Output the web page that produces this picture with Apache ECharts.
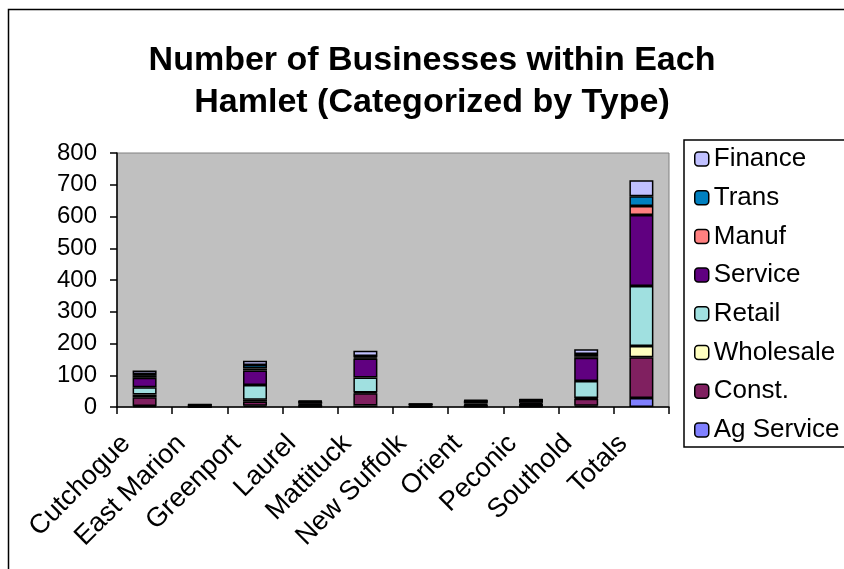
<!DOCTYPE html>
<html>
<head>
<meta charset="utf-8">
<script src="https://cdn.jsdelivr.net/npm/echarts@6/dist/echarts.min.js"></script>
<style>html,body{margin:0;padding:0;background:#fff}#c{width:844px;height:569px}</style>
</head>
<body>
<div id="c"></div>
<script>
var categories = ['Cutchogue','East Marion','Greenport','Laurel','Mattituck','New Suffolk','Orient','Peconic','Southold','Totals'];
var agService = [3, 0, 4, 1, 5, 0, 1, 2, 4, 28];
var constr    = [28, 2, 13, 5, 38, 2, 5, 6, 22, 129];
var wholesale = [8, 0, 6, 1, 3, 0, 1, 1, 2, 35];
var retail    = [23, 1, 46, 3, 47, 2, 4, 4, 54, 189];
var service   = [30, 3, 46, 6, 60, 4, 7, 8, 73, 224];
var manuf     = [6, 0, 6, 1, 3, 0, 1, 1, 5, 28];
var trans     = [6, 1, 11, 1, 5, 1, 1, 1, 7, 31];
var finance   = [11, 1, 14, 2, 16, 1, 2, 2, 15, 50];
var yTicks = [0, 100, 200, 300, 400, 500, 600, 700, 800];

var seriesDefs = [
  {name: 'Ag Service', data: agService, color: '#8080ff'},
  {name: 'Const.', data: constr, color: '#802060'},
  {name: 'Wholesale', data: wholesale, color: '#ffffc0'},
  {name: 'Retail', data: retail, color: '#a0e0e0'},
  {name: 'Service', data: service, color: '#600080'},
  {name: 'Manuf', data: manuf, color: '#ff8080'},
  {name: 'Trans', data: trans, color: '#0080c0'},
  {name: 'Finance', data: finance, color: '#c0c0ff'}
];

var chart = echarts.init(document.getElementById('c'), null, {renderer: 'canvas'});
var FONT = 'Arial, "Liberation Sans", sans-serif';
chart.setOption({
  animation: false,
  backgroundColor: '#ffffff',
  textStyle: {fontFamily: FONT},
  graphic: [
    {type: 'rect', shape: {x: 8.5, y: 9.5, width: 1000, height: 1000}, style: {fill: 'none', stroke: '#000', lineWidth: 1.5}, z: 100},
    {type: 'text', x: 432, y: 82, z: 100, style: {text: 'Number of Businesses within Each\nHamlet (Categorized by Type)', font: 'bold 34px ' + FONT, fill: '#000', textAlign: 'center', textVerticalAlign: 'middle', lineHeight: 42}}
  ],
  legend: {
    orient: 'vertical',
    left: 684, top: 140,
    padding: [6, 40, 4, 10],
    borderColor: '#000', borderWidth: 1.5,
    itemWidth: 14, itemHeight: 14, itemGap: 12.7,
    itemStyle: {borderColor: '#000', borderWidth: 1.5},
    textStyle: {fontSize: 26, fontFamily: FONT, color: '#000'},
    data: seriesDefs.map(function(s){return s.name;}).reverse()
  },
  grid: {left: 117, right: 175, top: 153, bottom: 162, show: true, backgroundColor: '#c0c0c0', borderColor: '#808080', borderWidth: 1},
  xAxis: {
    type: 'category', data: categories,
    axisLine: {lineStyle: {color: '#000', width: 1.5}},
    axisTick: {show: true, length: 7, lineStyle: {color: '#000', width: 1.5}},
    axisLabel: {rotate: 45, fontSize: 27, color: '#000', margin: 14, interval: 0, fontFamily: FONT, padding: [0, 26, 0, 0]}
  },
  yAxis: {
    type: 'value', min: yTicks[0], max: yTicks[yTicks.length-1], interval: 100,
    axisLine: {show: true, lineStyle: {color: '#000', width: 1.5}},
    axisTick: {show: true, length: 7, lineStyle: {color: '#000', width: 1.5}},
    splitLine: {show: false},
    axisLabel: {fontSize: 24, color: '#000', margin: 20, fontFamily: FONT}
  },
  series: seriesDefs.map(function(s){
    return {
      name: s.name, type: 'bar', stack: 'all', data: s.data, barWidth: 24,
      itemStyle: {color: s.color, borderColor: '#000', borderWidth: 1.5}
    };
  })
});
</script>
</body>
</html>
